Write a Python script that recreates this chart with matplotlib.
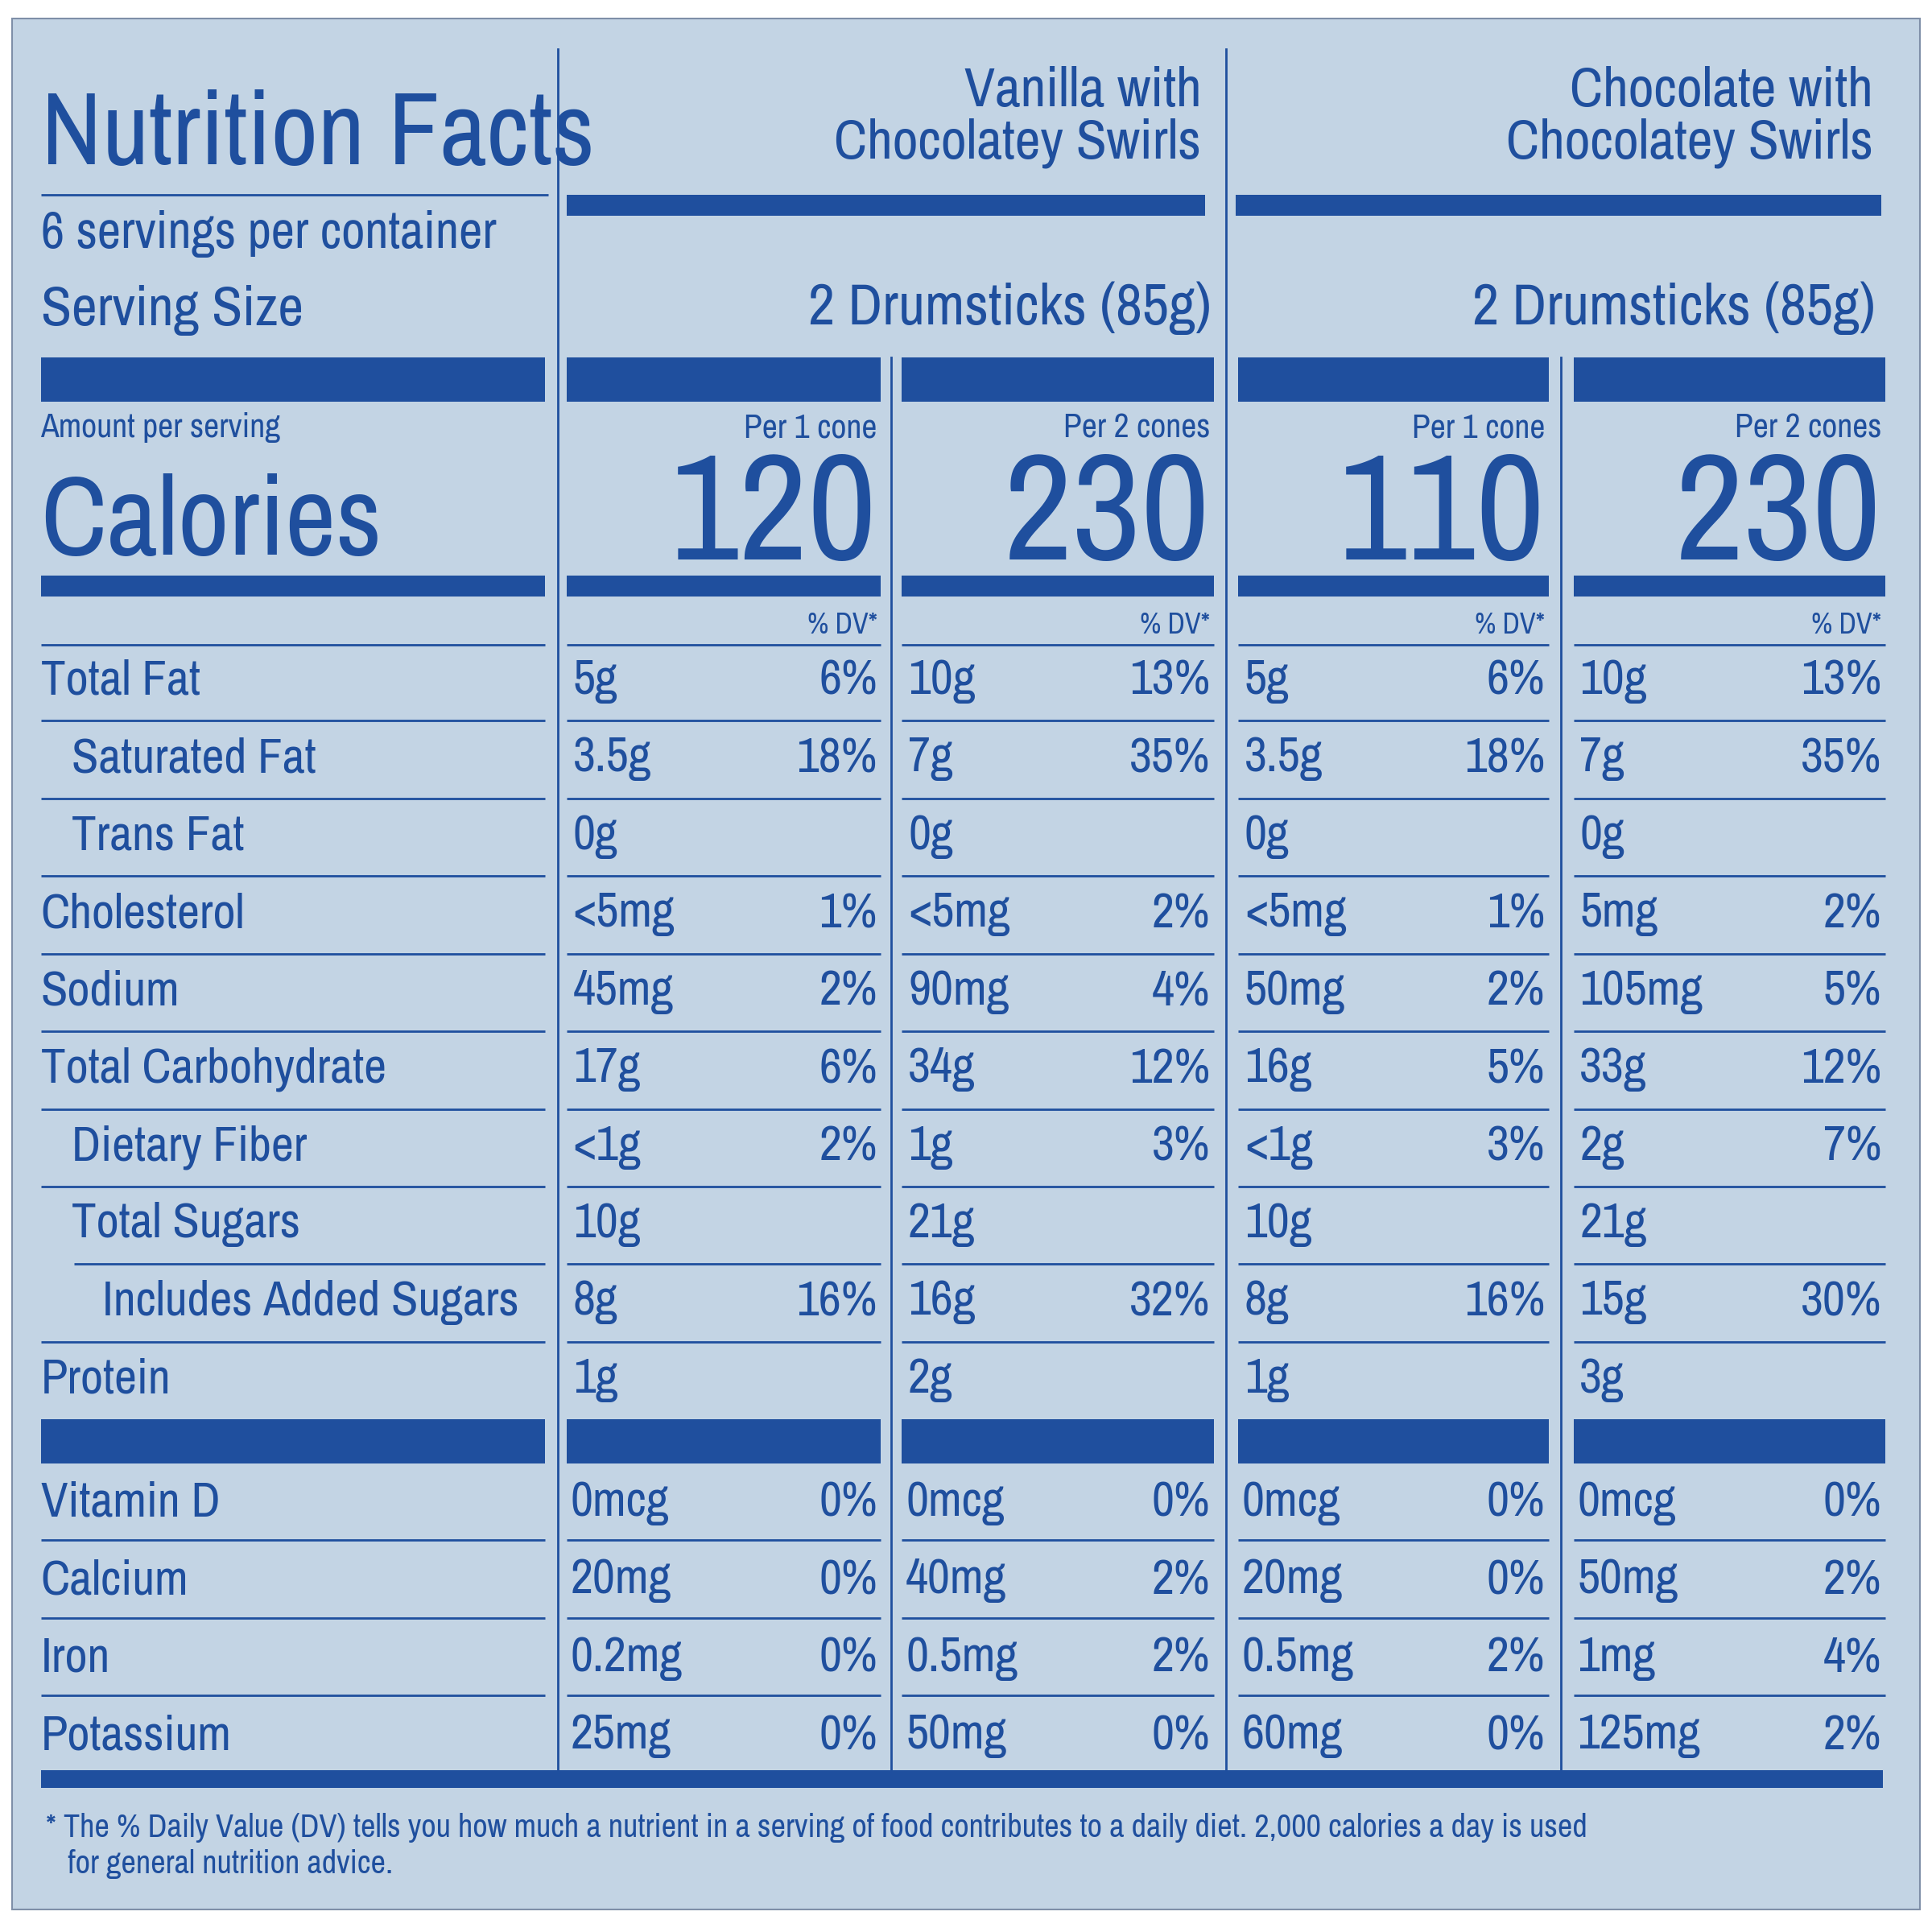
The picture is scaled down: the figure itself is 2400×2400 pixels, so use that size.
import matplotlib
matplotlib.use("Agg")
import matplotlib.pyplot as plt
from matplotlib import font_manager as fm

fams = sorted({f.name for f in fm.fontManager.ttflist})
narrow = [n for n in fams if ("Narrow" in n or "Condensed" in n)]
FONT = narrow[0] if narrow else "DejaVu Sans"
NARROW = bool(narrow)

BLUE = "#1f4f9e"
BG = "#c3d4e4"

products = ["Vanilla with\nChocolatey Swirls", "Chocolate with\nChocolatey Swirls"]
serving = ["2 Drumsticks (85g)", "2 Drumsticks (85g)"]
col_heads = ["Per 1 cone", "Per 2 cones", "Per 1 cone", "Per 2 cones"]
calories = ["120", "230", "110", "230"]

nutrients = ["Total Fat", "Saturated Fat", "Trans Fat", "Cholesterol", "Sodium",
             "Total Carbohydrate", "Dietary Fiber", "Total Sugars", "Includes Added Sugars", "Protein"]
bold_rows = [True, False, False, True, True, True, False, False, False, True]
indent = [0, 1, 1, 0, 0, 0, 1, 1, 2, 0]
amounts = [
    ["5g", "10g", "5g", "10g"],
    ["3.5g", "7g", "3.5g", "7g"],
    ["0g", "0g", "0g", "0g"],
    ["<5mg", "<5mg", "<5mg", "5mg"],
    ["45mg", "90mg", "50mg", "105mg"],
    ["17g", "34g", "16g", "33g"],
    ["<1g", "1g", "<1g", "2g"],
    ["10g", "21g", "10g", "21g"],
    ["8g", "16g", "8g", "15g"],
    ["1g", "2g", "1g", "3g"],
]
dvs = [
    ["6%", "13%", "6%", "13%"],
    ["18%", "35%", "18%", "35%"],
    ["", "", "", ""],
    ["1%", "2%", "1%", "2%"],
    ["2%", "4%", "2%", "5%"],
    ["6%", "12%", "5%", "12%"],
    ["2%", "3%", "3%", "7%"],
    ["", "", "", ""],
    ["16%", "32%", "16%", "30%"],
    ["", "", "", ""],
]
vitamins = ["Vitamin D", "Calcium", "Iron", "Potassium"]
vit_amounts = [
    ["0mcg", "0mcg", "0mcg", "0mcg"],
    ["20mg", "40mg", "20mg", "50mg"],
    ["0.2mg", "0.5mg", "0.5mg", "1mg"],
    ["25mg", "50mg", "60mg", "125mg"],
]
vit_dvs = [
    ["0%", "0%", "0%", "0%"],
    ["0%", "2%", "0%", "2%"],
    ["0%", "2%", "2%", "4%"],
    ["0%", "0%", "0%", "2%"],
]
footnote = ("* The % Daily Value (DV) tells you how much a nutrient in a serving of food contributes to a daily diet. 2,000 calories a day is used\n"
            "   for general nutrition advice.")

# font sizes (narrow font sizes, fallback sizes for wide DejaVu)
S = dict(title=(92, 56), serv=(46, 38), ssize=(50, 44), prod=(50, 36), drum=(52, 40),
         aps=(30, 24), cal=(100, 88), num=(135, 118), head=(30, 25), dv=(26, 22),
         row=(44, 38), row_small=(44, 33), foot=(29, 25.5))
def sz(k):
    return S[k][0] if NARROW else S[k][1]

fig = plt.figure(figsize=(24, 24), dpi=100)
fig.patch.set_facecolor("white")
ax = fig.add_axes([0, 0, 1, 1])
ax.set_xlim(0, 1568); ax.set_ylim(1568, 0); ax.axis("off")

ax.add_patch(plt.Rectangle((10, 15), 1548, 1535, facecolor=BG, edgecolor="#7f8fa8", lw=1.5))

def T(x, y, s, size, bold=False, ha="left", va="center", **kw):
    ax.text(x, y, s, fontsize=size, fontweight="bold" if bold else "normal", ha=ha, va=va,
            color=BLUE, family=FONT, **kw)

def bar(x0, x1, y0, y1):
    ax.add_patch(plt.Rectangle((x0, y0), x1 - x0, y1 - y0, facecolor=BLUE, edgecolor="none"))

def hline(x0, x1, y, lw=2):
    ax.plot([x0, x1], [y, y], color=BLUE, lw=lw, solid_capstyle="butt")

cols = [(460, 715), (732, 985), (1005, 1257), (1277, 1530)]

for x, y0 in [(453, 40), (995, 40), (723, 290), (1267, 290)]:
    ax.plot([x, x], [y0, 1437], color=BLUE, lw=2)

# header
T(33, 110, "Nutrition Facts", sz("title"), bold=True)
hline(33, 445, 158)
T(33, 190, "6 servings per container", sz("serv"))
T(33, 252, "Serving Size", sz("ssize"), bold=True)
for i, (x0, x1) in enumerate([(460, 978), (1003, 1527)]):
    T(975 if i == 0 else 1520, 95, products[i], sz("prod"), bold=True, ha="right", linespacing=1.05)
    bar(x0, x1, 158, 175)
    T(983 if i == 0 else 1522, 250, serving[i], sz("drum"), bold=True, ha="right")

bar(33, 442, 290, 326)
T(33, 347, "Amount per serving", sz("aps"), bold=True)
T(33, 425, "Calories", sz("cal"), bold=True)
bar(33, 442, 467, 484)
for j, (x0, x1) in enumerate(cols):
    bar(x0, x1, 290, 326)
    T(x1 - 3, 347, col_heads[j], sz("head"), bold=True, ha="right")
    T(x1 - 3, 420, calories[j], sz("num"), bold=True, ha="right")
    bar(x0, x1, 467, 484)
    T(x1 - 3, 507, "% DV*", sz("dv"), bold=True, ha="right")
hline(33, 442, 523)
for x0, x1 in cols:
    hline(x0, x1, 523)

y = 553
for i, name in enumerate(nutrients):
    T(33 + indent[i] * 25, y, name, sz("row_small") if indent[i] == 2 else sz("row"), bold=bold_rows[i])
    for j, (x0, x1) in enumerate(cols):
        T(x0 + 5, y, amounts[i][j], sz("row"))
        if dvs[i][j]:
            T(x1 - 3, y, dvs[i][j], sz("row"), bold=True, ha="right")
    if i < len(nutrients) - 1:
        ly = y + 32
        hline(60 if i == 7 else 33, 442, ly)
        for x0, x1 in cols:
            hline(x0, x1, ly)
    y += 63

bar(33, 442, 1152, 1188)
for x0, x1 in cols:
    bar(x0, x1, 1152, 1188)

y = 1220
for i, name in enumerate(vitamins):
    T(33, y, name, sz("row"))
    for j, (x0, x1) in enumerate(cols):
        T(x0 + 3, y, vit_amounts[i][j], sz("row"))
        T(x1 - 3, y, vit_dvs[i][j], sz("row"), ha="right")
    if i < len(vitamins) - 1:
        hline(33, 442, y + 30)
        for x0, x1 in cols:
            hline(x0, x1, y + 30)
    y += 63

bar(33, 1528, 1437, 1451)
T(37, 1498, footnote, sz("foot"), linespacing=1.25)

fig.savefig("out.png", dpi=100, facecolor="white")
